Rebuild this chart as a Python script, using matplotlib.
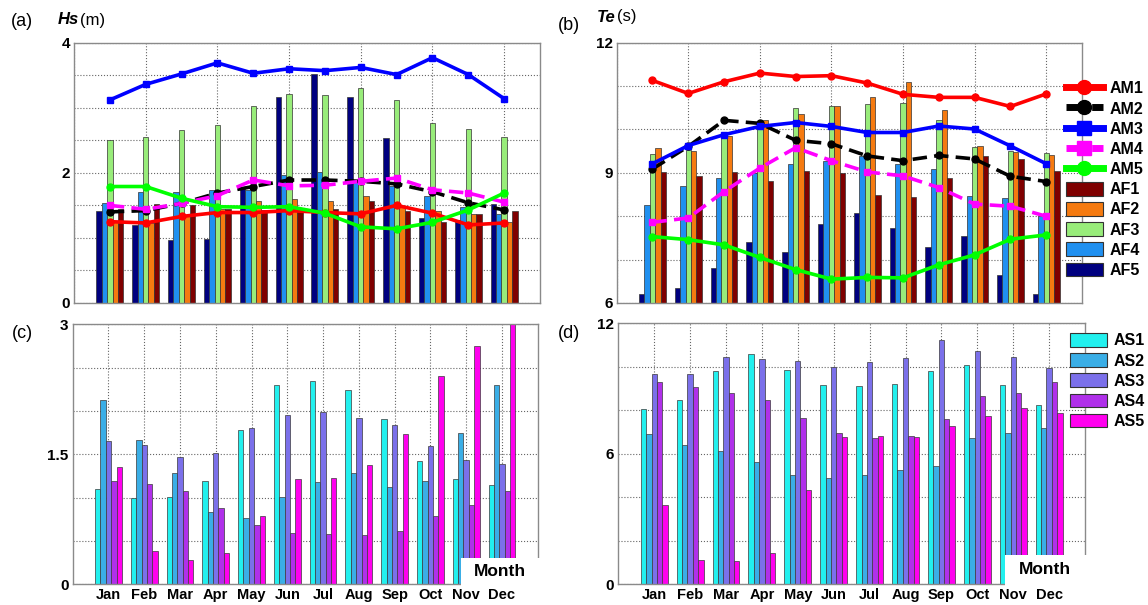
import matplotlib
matplotlib.use('Agg')
import matplotlib.pyplot as plt
from matplotlib.lines import Line2D
from matplotlib.patches import Patch, Rectangle
import numpy as np

plt.rcParams['font.family'] = ['Liberation Sans', 'DejaVu Sans']

months = ['Jan', 'Feb', 'Mar', 'Apr', 'May', 'Jun', 'Jul', 'Aug', 'Sep', 'Oct', 'Nov', 'Dec']

# ---------------- (a) Hs (m) ----------------
hs_AM1 = [1.25, 1.23, 1.33, 1.39, 1.39, 1.42, 1.39, 1.37, 1.50, 1.38, 1.20, 1.23]
hs_AM2 = [1.40, 1.42, 1.53, 1.69, 1.79, 1.89, 1.89, 1.87, 1.83, 1.71, 1.54, 1.43]
hs_AM3 = [3.12, 3.36, 3.52, 3.69, 3.53, 3.60, 3.57, 3.62, 3.51, 3.77, 3.51, 3.14]
hs_AM4 = [1.50, 1.44, 1.53, 1.65, 1.89, 1.80, 1.81, 1.87, 1.92, 1.74, 1.69, 1.55]
hs_AM5 = [1.79, 1.79, 1.61, 1.48, 1.47, 1.48, 1.38, 1.17, 1.14, 1.24, 1.43, 1.69]
hs_AF1 = [1.45, 1.52, 1.50, 1.45, 1.43, 1.45, 1.44, 1.56, 1.41, 1.25, 1.37, 1.41]
hs_AF2 = [1.25, 1.23, 1.33, 1.45, 1.57, 1.60, 1.56, 1.65, 1.48, 1.41, 1.36, 1.24]
hs_AF3 = [2.50, 2.55, 2.66, 2.74, 3.03, 3.21, 3.19, 3.31, 3.12, 2.77, 2.68, 2.55]
hs_AF4 = [1.54, 1.71, 1.70, 1.73, 1.74, 1.96, 2.01, 1.87, 1.80, 1.64, 1.48, 1.37]
hs_AF5 = [1.42, 1.20, 0.97, 0.98, 1.75, 3.17, 3.52, 3.17, 2.54, 1.31, 1.28, 1.52]

# ---------------- (b) Te (s) ----------------
te_AM1 = [11.13, 10.83, 11.10, 11.30, 11.22, 11.24, 11.07, 10.81, 10.74, 10.74, 10.53, 10.82]
te_AM2 = [9.09, 9.61, 10.21, 10.14, 9.75, 9.67, 9.39, 9.28, 9.40, 9.32, 8.92, 8.80]
te_AM3 = [9.21, 9.63, 9.88, 10.07, 10.16, 10.07, 9.93, 9.93, 10.08, 10.01, 9.62, 9.21]
te_AM4 = [7.86, 7.96, 8.57, 9.11, 9.58, 9.28, 9.02, 8.93, 8.66, 8.28, 8.23, 8.00]
te_AM5 = [7.53, 7.46, 7.34, 7.05, 6.77, 6.55, 6.59, 6.58, 6.88, 7.11, 7.47, 7.57]
te_AF1 = [9.03, 8.92, 9.01, 8.82, 9.05, 8.99, 8.49, 8.44, 8.89, 9.39, 9.32, 9.05]
te_AF2 = [9.58, 9.51, 9.85, 10.21, 10.35, 10.53, 10.74, 11.09, 10.44, 9.61, 9.47, 9.42]
te_AF3 = [9.43, 9.53, 9.84, 10.11, 10.49, 10.54, 10.58, 10.60, 10.22, 9.59, 9.51, 9.45]
te_AF4 = [8.26, 8.69, 8.88, 8.99, 9.21, 9.28, 9.38, 9.20, 9.10, 8.47, 8.42, 8.00]
te_AF5 = [6.21, 6.35, 6.81, 7.40, 7.17, 7.83, 8.07, 7.72, 7.29, 7.55, 6.65, 6.20]

# ---------------- (c) Hs, AS series ----------------
hs_AS1 = [1.10, 1.00, 1.01, 1.19, 1.78, 2.30, 2.35, 2.24, 1.91, 1.42, 1.22, 1.15]
hs_AS2 = [2.13, 1.66, 1.28, 0.83, 0.77, 1.01, 1.18, 1.28, 1.12, 1.19, 1.75, 2.30]
hs_AS3 = [1.65, 1.61, 1.47, 1.51, 1.80, 1.95, 1.99, 1.92, 1.84, 1.60, 1.43, 1.39]
hs_AS4 = [1.19, 1.16, 1.08, 0.88, 0.68, 0.59, 0.58, 0.57, 0.62, 0.79, 0.91, 1.08]
hs_AS5 = [1.35, 0.38, 0.28, 0.36, 0.79, 1.22, 1.23, 1.38, 1.73, 2.40, 2.75, 3.00]

# ---------------- (d) Te, AS series ----------------
te_AS1 = [8.05, 8.48, 9.81, 10.57, 9.84, 9.16, 9.12, 9.21, 9.81, 10.08, 9.16, 8.23]
te_AS2 = [6.90, 6.41, 6.15, 5.64, 5.03, 4.87, 5.01, 5.24, 5.46, 6.71, 6.94, 7.17]
te_AS3 = [9.66, 9.66, 10.47, 10.34, 10.25, 10.01, 10.24, 10.42, 11.23, 10.73, 10.44, 9.93]
te_AS4 = [9.29, 9.07, 8.80, 8.48, 7.63, 6.96, 6.71, 6.84, 7.62, 8.67, 8.81, 9.30]
te_AS5 = [3.63, 1.12, 1.07, 1.46, 4.32, 6.79, 6.84, 6.79, 7.28, 7.74, 8.09, 7.86]

af_labels = ['AF1', 'AF2', 'AF3', 'AF4', 'AF5']
am_labels = ['AM1', 'AM2', 'AM3', 'AM4', 'AM5']
as_labels = ['AS1', 'AS2', 'AS3', 'AS4', 'AS5']

af_colors = ['#7f0000', '#f57a10', '#98ec7a', '#2090f0', '#00007f']
am_colors = ['#ff0000', '#000000', '#0000ff', '#ff00ff', '#00ff00']
am_styles = ['-', '--', '-', '--', '-']
am_markers = ['o', 'o', 's', 's', 'o']
as_colors = ['#22f0ee', '#3aaee6', '#7b70ea', '#b030ea', '#ff00ee']

W, H = 1148, 605
fig = plt.figure(figsize=(W / 100, H / 100), dpi=100)


def add_ax(left, top, right, bottom):
    return fig.add_axes([left / W, 1 - bottom / H, (right - left) / W, (bottom - top) / H])


ax_a = add_ax(74, 42.7, 540, 303)
ax_b = add_ax(616.7, 42.7, 1082, 303)
ax_c = add_ax(72.7, 324.3, 537.7, 584.3)
ax_d = add_ax(618.3, 323.3, 1085, 584.3)

x = np.arange(1, 13)
bw = 0.15
offsets = [-0.3, -0.15, 0.0, 0.15, 0.3]

grid_kw = dict(linestyle=':', color='#666666', linewidth=0.8)


def style(ax, ylim, yticks, ylabels, monthly):
    ax.set_xlim(0, 13)
    ax.set_ylim(*ylim)
    ax.set_yticks(yticks)
    ax.set_yticklabels(ylabels, fontsize=11, fontweight='bold')
    if monthly:
        ax.set_xticks(x)
        ax.set_xticklabels(months, fontsize=10.5, fontweight='bold')
    else:
        ax.set_xticks(np.arange(0, 14, 2))
        ax.set_xticklabels([])
    ax.tick_params(length=0, pad=3)
    ax.grid(True, **grid_kw)
    ax.set_axisbelow(True)
    for s in ax.spines.values():
        s.set_color('#8a8a8a')
        s.set_linewidth(1.0)


# ----- (a) -----
af_hs = [hs_AF5, hs_AF4, hs_AF3, hs_AF2, hs_AF1]
am_hs = [hs_AM1, hs_AM2, hs_AM3, hs_AM4, hs_AM5]
for i, vals in enumerate(af_hs):
    ax_a.bar(x + offsets[i], vals, width=bw, color=af_colors[4 - i],
             edgecolor='#333333', linewidth=0.5, zorder=2)
for i, vals in enumerate(am_hs):
    ax_a.plot(x, vals, color=am_colors[i], linestyle=am_styles[i], marker=am_markers[i],
              markersize=5, linewidth=2.6, zorder=3, dashes=(4, 2) if am_styles[i] == '--' else (None, None))
style(ax_a, (0, 4), np.arange(0, 4.01, 0.5),
      ['0', '', '', '', '2', '', '', '', '4'], monthly=False)

# ----- (b) -----
af_te = [te_AF5, te_AF4, te_AF3, te_AF2, te_AF1]
am_te = [te_AM1, te_AM2, te_AM3, te_AM4, te_AM5]
for i, vals in enumerate(af_te):
    ax_b.bar(x + offsets[i], np.array(vals) - 6, bottom=6, width=bw, color=af_colors[4 - i],
             edgecolor='#333333', linewidth=0.5, zorder=2)
for i, vals in enumerate(am_te):
    ax_b.plot(x, vals, color=am_colors[i], linestyle=am_styles[i], marker=am_markers[i],
              markersize=5, linewidth=2.6, zorder=3, dashes=(4, 2) if am_styles[i] == '--' else (None, None))
style(ax_b, (6, 12), np.arange(6, 12.01, 1),
      ['6', '', '', '9', '', '', '12'], monthly=False)

# ----- (c) -----
as_hs = [hs_AS1, hs_AS2, hs_AS3, hs_AS4, hs_AS5]
for i, vals in enumerate(as_hs):
    ax_c.bar(x + offsets[i], vals, width=bw, color=as_colors[i],
             edgecolor='#3a3a3a', linewidth=0.5, zorder=2)
style(ax_c, (0, 3), np.arange(0, 3.01, 0.5),
      ['0', '', '', '1.5', '', '', '3'], monthly=True)

# ----- (d) -----
as_te = [te_AS1, te_AS2, te_AS3, te_AS4, te_AS5]
for i, vals in enumerate(as_te):
    ax_d.bar(x + offsets[i], vals, width=bw, color=as_colors[i],
             edgecolor='#3a3a3a', linewidth=0.5, zorder=2)
style(ax_d, (0, 12), np.arange(0, 12.01, 2),
      ['0', '', '', '6', '', '', '12'], monthly=True)

# ----- legends -----
am_handles = [Line2D([0], [0], color=am_colors[i], linestyle=am_styles[i], marker=am_markers[i],
                     markersize=10, linewidth=5,
                     dashes=(2.5, 1.2) if am_styles[i] == '--' else (None, None))
              for i in range(5)]
af_handles = [Patch(facecolor=af_colors[i], edgecolor='#333333', linewidth=0.8) for i in range(5)]
leg_b = fig.legend(am_handles + af_handles, am_labels + af_labels,
                   loc='upper left', bbox_to_anchor=(1066 / W, 1 - 81 / H),
                   frameon=False, prop=dict(size=11.5, weight='bold'),
                   handlelength=2.3, handleheight=0.95, handletextpad=0.45,
                   labelspacing=0.3, borderpad=0, borderaxespad=0)

as_handles = [Patch(facecolor=as_colors[i], edgecolor='#333333', linewidth=0.8) for i in range(5)]
leg_d = fig.legend(as_handles, as_labels,
                   loc='upper left', bbox_to_anchor=(1070 / W, 1 - 333 / H),
                   frameon=False, prop=dict(size=11.5, weight='bold'),
                   handlelength=2.3, handleheight=0.95, handletextpad=0.45,
                   labelspacing=0.3, borderpad=0, borderaxespad=0)

# ----- "Month" boxes -----
for (l, t, r, b, tx, ty) in [(460.7, 558, 548, 588, 500, 572),
                             (1005, 555, 1095, 588, 1045, 570)]:
    fig.add_artist(Rectangle((l / W, 1 - b / H), (r - l) / W, (b - t) / H,
                             transform=fig.transFigure, facecolor='white',
                             edgecolor='none', zorder=5))
    fig.text(tx / W, 1 - ty / H, 'Month', fontsize=12.5, fontweight='bold',
             ha='center', va='center', zorder=6)

# ----- panel labels and units -----
fig.text(22 / W, 1 - 22 / H, '(a)', fontsize=13, ha='center', va='center')
fig.text(569 / W, 1 - 26 / H, '(b)', fontsize=13, ha='center', va='center')
fig.text(22 / W, 1 - 333 / H, '(c)', fontsize=13, ha='center', va='center')
fig.text(569 / W, 1 - 333 / H, '(d)', fontsize=13, ha='center', va='center')

fig.text(58 / W, 1 - 20 / H, 'Hs', fontsize=12, fontweight='bold', fontstyle='italic',
         ha='left', va='center')
fig.text(80 / W, 1 - 20 / H, '(m)', fontsize=12, ha='left', va='center')
fig.text(597 / W, 1 - 17 / H, 'Te', fontsize=12, fontweight='bold', fontstyle='italic',
         ha='left', va='center')
fig.text(617 / W, 1 - 17 / H, '(s)', fontsize=12, ha='left', va='center')

fig.savefig('out.png', dpi=100)
